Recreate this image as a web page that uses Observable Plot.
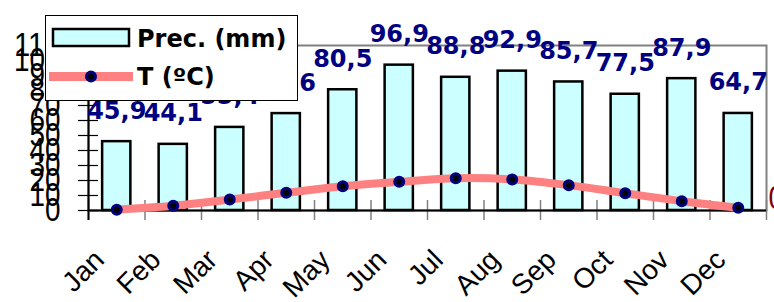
<!DOCTYPE html>
<html><head><meta charset="utf-8">
<script src="https://cdn.jsdelivr.net/npm/d3@7"></script>
<script src="https://cdn.jsdelivr.net/npm/@observablehq/plot@0.6"></script>
<style>
body{margin:0;background:#fff}
#wrap{position:relative;width:774px;height:302px;overflow:hidden}
#legend{position:absolute;left:45px;top:15px}
</style></head><body>
<div id="wrap">
<svg id="legend" width="253" height="86">
<rect x="0.5" y="0.5" width="252" height="85" fill="white" stroke="black"/>
<rect x="8" y="14" width="76" height="17" fill="#CCFFFF" stroke="black" stroke-width="2.5"/>
<text x="92" y="32" font-family="DejaVu Sans" font-weight="bold" font-size="24">Prec. (mm)</text>
<line x1="4" x2="88" y1="61.5" y2="61.5" stroke="#FF8080" stroke-width="9"/>
<circle cx="46" cy="61.5" r="4.5" fill="black" stroke="#000080" stroke-width="3"/>
<text x="92" y="70" font-family="DejaVu Sans" font-weight="bold" font-size="24">T (ºC)</text>
</svg>
</div>
<script>
const months = ["Jan","Feb","Mar","Apr","May","Jun","Jul","Aug","Sep","Oct","Nov","Dec"];
const precipitation = [45.9,44.1,55.4,64.6,80.5,96.9,88.8,92.9,85.7,77.5,87.9,64.7];
const temperature = [0.5,3.1,7.3,11.8,16.2,19.1,21.5,20.7,16.9,11.5,6.2,1.8];
const yTicks = [0,10,20,30,40,50,60,70,80,90,100,110];
const rightTickLabels = ["0"];
const rightTickValues = [8];

const data = months.map((m,i)=>({month:m, i, prec:precipitation[i], temp:temperature[i]}));
const rightTicks = rightTickLabels.map((l,i)=>({label:l, value:rightTickValues[i]}));
const fmt = v => d3.format(".1f")(v).replace(".", ",");
const bounds = d3.range(0, months.length + 1);
const pxX = 678/12, pxY = 165/110;

const chart = Plot.plot({
  width: 774, height: 302,
  marginLeft: 88, marginRight: 8, marginTop: 45, marginBottom: 92,
  x: {domain: [0, 12], axis: null},
  y: {domain: [0, 110], axis: null},
  marks: [
    Plot.frame({stroke: "#808080", strokeWidth: 2}),
    Plot.rectY(data, {x1: d => d.i + 0.25, x2: d => d.i + 0.75, y: "prec", fill: "#CCFFFF", stroke: "black", strokeWidth: 2.5}),
    Plot.ruleX(bounds, {x: d => d, y1: -10/pxY, y2: 10/pxY, stroke: "#808080", strokeWidth: 1.5}),
    Plot.ruleY([0], {stroke: "black", strokeWidth: 2}),
    Plot.ruleX([0], {y1: -10/pxY, y2: 110, stroke: "black", strokeWidth: 2}),
    Plot.ruleY(yTicks, {y: d => d, x1: -10/pxX, x2: 10/pxX, stroke: "black", strokeWidth: 1.2}),
    Plot.line(data, {x: d => d.i + 0.5, y: "temp", stroke: "#FF8080", strokeWidth: 8, curve: "catmull-rom"}),
    Plot.dot(data, {x: d => d.i + 0.5, y: "temp", r: 4.5, fill: "black", stroke: "#000080", strokeWidth: 3}),
    Plot.text(data, {x: d => d.i + 0.5, y: "prec", text: d => fmt(d.prec), dy: -23, lineAnchor: "bottom",
      fill: "#000080", fontWeight: "bold", fontSize: 24, fontFamily: "DejaVu Sans"}),
    Plot.text(yTicks, {x: 0, y: d => d, text: d => String(d), textAnchor: "end", dx: -28,
      fontSize: 34, fontFamily: "Liberation Sans, Arial", fill: "#000001"}),
    Plot.text(rightTicks, {x: 12, y: "value", text: "label", textAnchor: "start", dx: 2,
      fontSize: 34, fontFamily: "Liberation Sans, Arial", fill: "#800000"}),
    Plot.text(data, {x: d => d.i + 0.5, frameAnchor: "bottom", text: "month", rotate: -45, textAnchor: "end",
      dx: -11, dy: 51, fontSize: 28, fontFamily: "Liberation Sans, Arial", fill: "black"})
  ]
});
d3.select(chart).selectAll('g[fill="#000001"] text, g[fill="#800000"] text').each(function(){
  const n = this.textContent.length;
  this.setAttribute("textLength", n * 15.5);
  this.setAttribute("lengthAdjust", "spacingAndGlyphs");
});
const wrap = document.getElementById("wrap");
wrap.insertBefore(chart, wrap.firstChild);
</script>
</body></html>
